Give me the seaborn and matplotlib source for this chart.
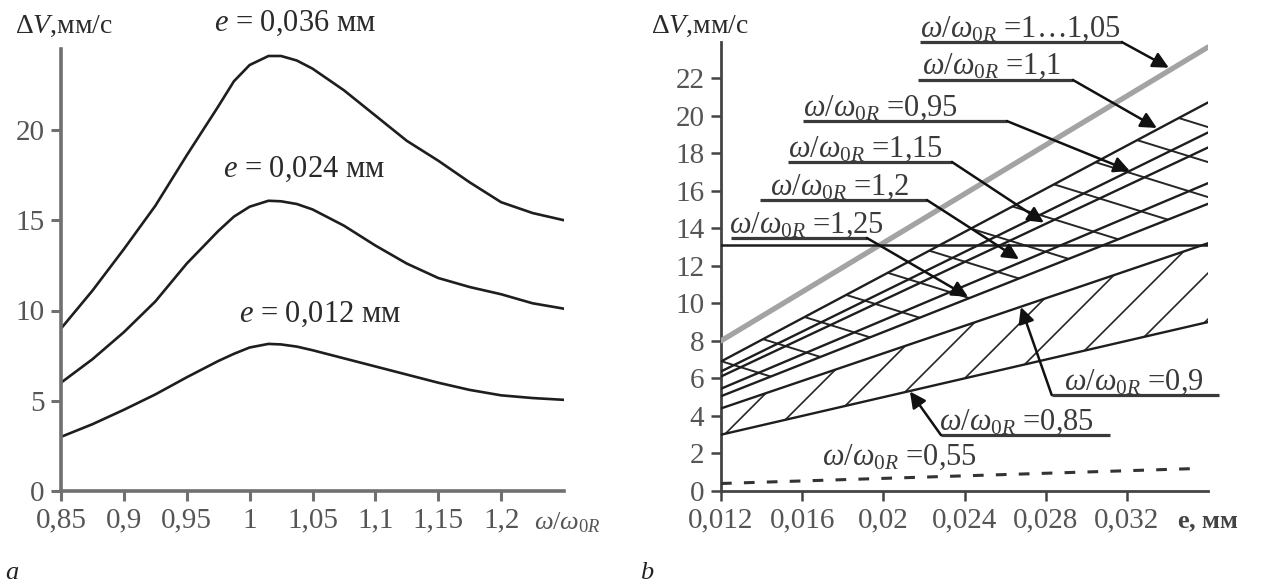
import numpy as np
import pandas as pd
import matplotlib
matplotlib.use("Agg")
import matplotlib.pyplot as plt
import seaborn as sns
from matplotlib.patches import Polygon
from matplotlib.collections import LineCollection

# ---------------- panel a data ----------------
ratio_a = [0.85, 0.875, 0.9, 0.925, 0.95, 0.975, 0.9875, 1.0, 1.015, 1.025,
           1.0375, 1.05, 1.075, 1.1, 1.125, 1.15, 1.175, 1.2, 1.225, 1.25]
dv_e012 = [3.0, 3.7, 4.5, 5.35, 6.3, 7.2, 7.6, 7.95, 8.15, 8.12,
           8.0, 7.8, 7.35, 6.9, 6.45, 6.0, 5.6, 5.3, 5.15, 5.05]
dv_e024 = [6.0, 7.3, 8.8, 10.5, 12.6, 14.4, 15.2, 15.75, 16.08, 16.05,
           15.9, 15.6, 14.7, 13.6, 12.6, 11.8, 11.3, 10.9, 10.4, 10.1]
dv_e036 = [9.0, 11.1, 13.4, 15.8, 18.6, 21.3, 22.7, 23.6, 24.1, 24.1,
           23.85, 23.4, 22.2, 20.8, 19.4, 18.3, 17.1, 16.0, 15.4, 15.0]
e_names_a = ["0,012", "0,024", "0,036"]

xticks_a = [0.85, 0.9, 0.95, 1.0, 1.05, 1.1, 1.15, 1.2]
xticklabels_a = ["0,85", "0,9", "0,95", "1", "1,05", "1,1", "1,15", "1,2"]
yticks_a = [0, 5, 10, 15, 20]

# ---------------- panel b data ----------------
e_range = [0.012, 0.036]
ratio_b = ["1…1,05", "1,1", "0,95", "1,15", "1,2", "1,25", "0,9", "0,85"]
dv_b_start = [8.0, 6.9, 6.37, 6.1, 5.45, 5.05, 4.4, 3.0]
dv_b_end = [23.65, 20.7, 19.1, 18.3, 16.4, 15.3, 13.2, 9.0]
dv_limit = 13.1
e_055 = [0.012, 0.0355]
dv_055 = [0.4, 1.2]

xticks_b = [0.012, 0.016, 0.02, 0.024, 0.028, 0.032]
xticklabels_b = ["0,012", "0,016", "0,02", "0,024", "0,028", "0,032"]
yticks_b = list(range(0, 23, 2))

# ---------------- style ----------------
sns.set_theme(style="ticks")
plt.rcParams["font.family"] = ["Liberation Serif", "DejaVu Serif"]
plt.rcParams["mathtext.fontset"] = "custom"
plt.rcParams["mathtext.rm"] = "Liberation Serif"
plt.rcParams["mathtext.it"] = "Liberation Serif:italic"
plt.rcParams["mathtext.bf"] = "Liberation Serif:bold"

W, H = 1265, 587
fig = plt.figure(figsize=(W / 100, H / 100), dpi=100, facecolor="white")
ax_a = fig.add_axes([61 / W, 96 / H, 503 / W, 24.5 * 18.05 / H])
ax_b = fig.add_axes([721 / W, 96 / H, 487 / W, 23.9 * 18.77 / H])

TICK_FS = 21
LAB_FS = 22
DARK = "#1e1e1e"

# ---------------- panel a ----------------
df_a = pd.DataFrame({
    "ratio": ratio_a * 3,
    "dv": dv_e012 + dv_e024 + dv_e036,
    "e": sum([[n] * len(ratio_a) for n in e_names_a], []),
})
sns.lineplot(data=df_a, x="ratio", y="dv", hue="e", palette=[DARK] * 3,
             estimator=None, legend=False, linewidth=1.9, ax=ax_a)
ax_a.set_xlim(0.85, 1.25)
ax_a.set_ylim(0, 24.5)
ax_a.set_xticks(xticks_a, xticklabels_a)
ax_a.set_yticks(yticks_a, [str(v) for v in yticks_a])
ax_a.set_xlabel("")
ax_a.set_ylabel("")
for s in ["top", "right"]:
    ax_a.spines[s].set_visible(False)
for s in ["left", "bottom"]:
    ax_a.spines[s].set_color("#707070")
    ax_a.spines[s].set_linewidth(2.6)
ax_a.tick_params(length=7, width=2.2, color="#707070", labelcolor="#555555",
                 labelsize=TICK_FS, pad=5)

for name, xc, yb in zip(["0,036", "0,024", "0,012"], [1.036, 1.043, 1.056],
                        [25.5, 17.4, 9.36]):
    ax_a.text(xc, yb, r"$e$ = " + name + " мм", ha="center", va="baseline",
              fontsize=LAB_FS, color="#2a2a2a", clip_on=False)
ax_a.text(0.852, 25.4, r"$\Delta V$,мм/с", ha="center", va="baseline",
          fontsize=20, color="#2a2a2a", clip_on=False)
ax_a.text(1.226, -1.75, r"$\omega/\omega_{0R}$", ha="left", va="center",
          fontsize=19, color="#555555", clip_on=False)

# ---------------- panel b ----------------
ax_b.set_xlim(0.012, 0.036)
ax_b.set_ylim(0, 23.9)
for i, lab in enumerate(ratio_b):
    gray = i == 0
    sns.lineplot(x=e_range, y=[dv_b_start[i], dv_b_end[i]], ax=ax_b,
                 color="#a3a3a3" if gray else DARK,
                 linewidth=3.8 if gray else 1.7, zorder=3)
sns.lineplot(x=e_range, y=[dv_limit, dv_limit], ax=ax_b, color=DARK,
             linewidth=1.8, zorder=3)
sns.lineplot(x=e_055, y=dv_055, ax=ax_b, color="#333333", linewidth=2.2,
             linestyle=(0, (3.5, 4)), zorder=3)

# hatching of the two bands (derived from the band boundary lines)
tr = ax_b.transData
p0 = tr.transform((0.012, 0.0))
p1 = tr.transform((0.036, 10.0))
sx = (p1[0] - p0[0]) / 0.024
sy = (p1[1] - p0[1]) / 10.0


def hatch_band(lo, hi, slope_disp, anchor, spacing_px, lw):
    verts = [(e_range[0], dv_b_start[lo]), (e_range[1], dv_b_end[lo]),
             (e_range[1], dv_b_end[hi]), (e_range[0], dv_b_start[hi])]
    clip = Polygon(verts, closed=True, fill=False, edgecolor="none")
    ax_b.add_patch(clip)
    m = slope_disp * sx / sy
    dv = spacing_px / sy
    xs = np.array([0.010, 0.038])
    segs = []
    for k in range(-80, 81):
        ys = anchor[1] + m * (xs - anchor[0]) + k * dv
        segs.append(np.column_stack([xs, ys]))
    lc = LineCollection(segs, colors="#262626", linewidths=lw, zorder=2)
    ax_b.add_collection(lc)
    lc.set_clip_path(clip)


hatch_band(7, 6, 1.0, (0.0125, 3.36), 46, 1.2)
hatch_band(5, 1, -0.31, (0.03249, 18.7), 35, 1.4)

ax_b.set_xticks(xticks_b, xticklabels_b)
ax_b.set_yticks(yticks_b, [str(v) for v in yticks_b])
ax_b.set_xlabel("")
ax_b.set_ylabel("")
for s in ["top", "right"]:
    ax_b.spines[s].set_visible(False)
for s in ["left", "bottom"]:
    ax_b.spines[s].set_color("#444444")
    ax_b.spines[s].set_linewidth(2.0)
ax_b.tick_params(length=7, width=1.8, color="#444444", labelcolor="#555555",
                 labelsize=TICK_FS, pad=5)

# labels with leaders: (text x, underline x0, x1, underline v, leader from right?, tip)
labels_b = [
    (0.0218, 0.0218, 0.03175, 23.92, True, (0.03407, 22.55)),
    (0.0219, 0.0217, 0.02934, 21.90, True, (0.03348, 19.34)),
    (0.01604, 0.01604, 0.02609, 19.71, True, (0.03215, 17.05)),
    (0.0153, 0.0153, 0.02338, 17.53, True, (0.02791, 14.30)),
    (0.01441, 0.01392, 0.02215, 15.50, True, (0.02668, 12.35)),
    (0.01239, 0.01249, 0.01919, 13.48, True, (0.02417, 10.35)),
    (0.0289, 0.0283, 0.03653, 5.11, False, (0.02678, 9.80)),
    (0.02274, 0.02284, 0.03116, 2.98, False, (0.02131, 5.30)),
]
for lab, (tx, x0, x1, uv, right, tip) in zip(ratio_b, labels_b):
    ax_b.text(tx, uv + 0.3, r"$\omega/\omega_{0R}$ =" + lab, ha="left",
              va="baseline", fontsize=LAB_FS, color="#3a3a3a", clip_on=False,
              zorder=5)
    ax_b.plot([x0, x1], [uv, uv], color="#3a3a3a", lw=2.3, clip_on=False,
              zorder=5, solid_capstyle="butt")
    start = (x1, uv) if right else (x0, uv)
    ax_b.annotate("", xy=tip, xytext=start,
                  arrowprops=dict(arrowstyle="-|>", color="#111111", lw=1.8,
                                  mutation_scale=24, shrinkA=0, shrinkB=0),
                  annotation_clip=False, zorder=6)
ax_b.text(0.01698, 1.39, r"$\omega/\omega_{0R}$ =0,55", ha="left",
          va="baseline", fontsize=LAB_FS, color="#3a3a3a", clip_on=False)

ax_b.text(0.01097, 24.4, r"$\Delta V$,мм/с", ha="center", va="baseline",
          fontsize=20, color="#2a2a2a", clip_on=False)
ax_b.text(0.03445, -1.68, r"$\mathbf{e}$, мм", ha="left", va="center",
          fontsize=19, color="#444444", clip_on=False, fontweight="bold")

fig.text(5 / W, 8 / H, "a", fontsize=19, style="italic", color="#222222")
fig.text(640 / W, 8 / H, "b", fontsize=19, style="italic", color="#222222")

fig.savefig("out.png", dpi=100, facecolor="white")
